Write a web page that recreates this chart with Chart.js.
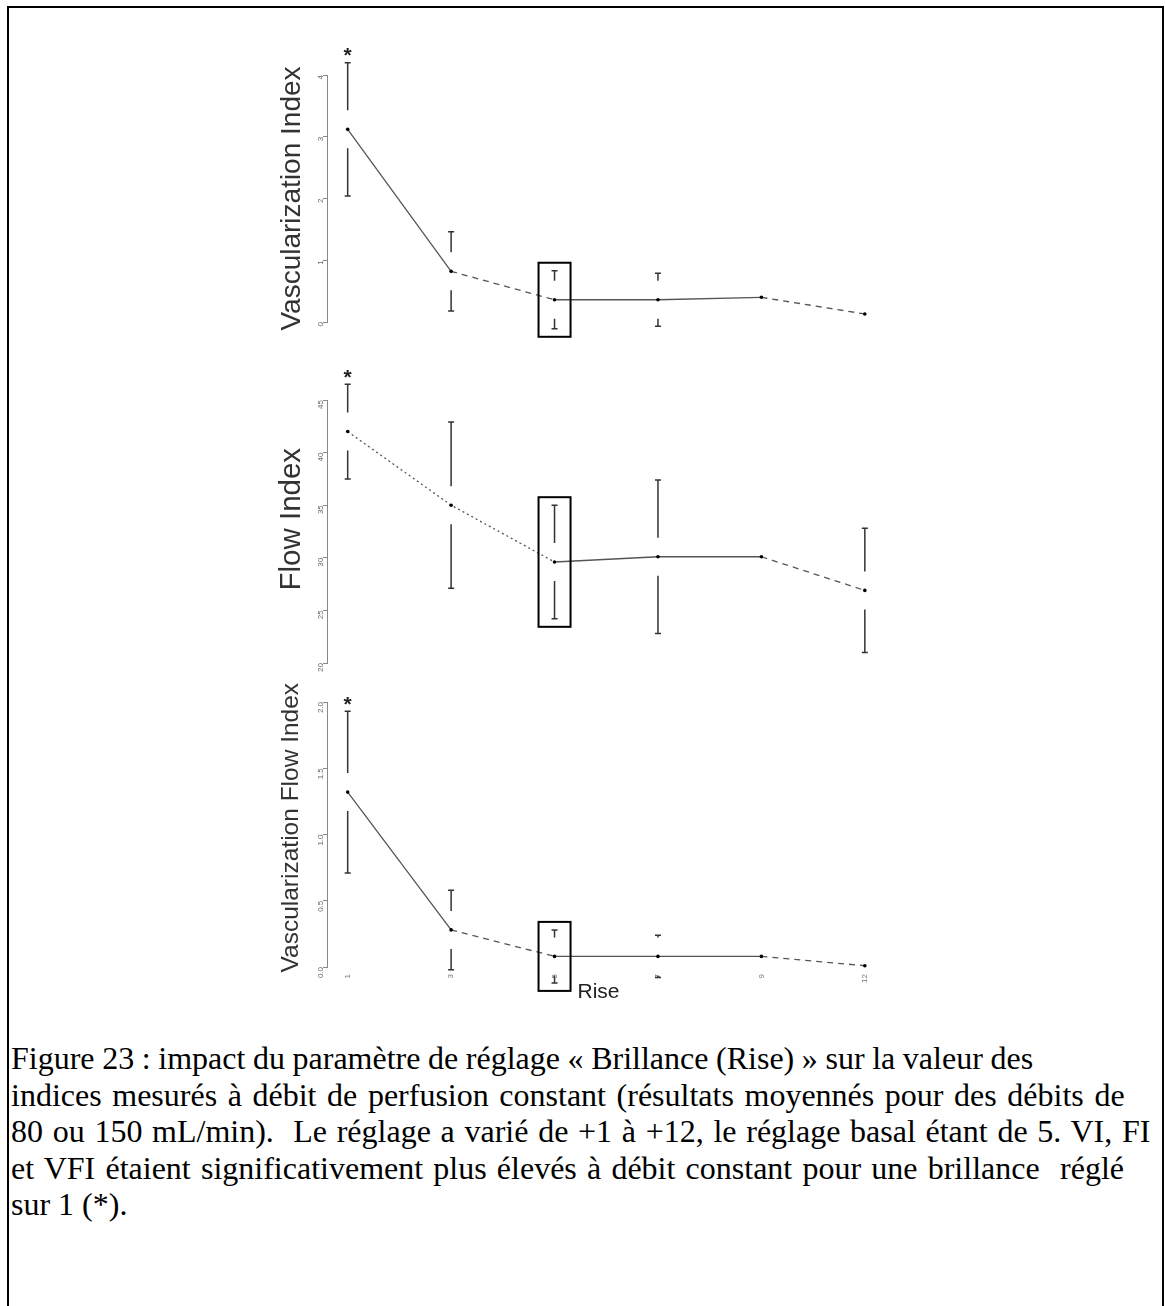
<!DOCTYPE html>
<html>
<head>
<meta charset="utf-8">
<script src="https://cdn.jsdelivr.net/npm/chart.js@4.4.1/dist/chart.umd.min.js"></script>
<style>
  body { margin: 0; background: #fff; width: 1165px; height: 1306px; position: relative; overflow: hidden; }
  #frame { position: absolute; left: 7px; top: 6px; width: 1157px; height: 1330px; border: 2px solid #000; box-sizing: border-box; }
  canvas { position: absolute; }
  #caption { position: absolute; left: 11px; top: 1040px; font-family: "Liberation Serif", "Times New Roman", serif;
             font-size: 32px; line-height: 36.6px; color: #000; white-space: nowrap; }
</style>
</head>
<body>
<div id="frame"></div>
<canvas id="viChart" width="620" height="305" style="left:262px; top:40px"></canvas>
<canvas id="fiChart" width="620" height="320" style="left:262px; top:360px"></canvas>
<canvas id="vfiChart" width="620" height="350" style="left:262px; top:680px"></canvas>
<div id="caption">
  <div style="word-spacing:-0.4px">Figure 23 : impact du paramètre de réglage « Brillance (Rise) » sur la valeur des</div>
  <div style="word-spacing:2.6px">indices mesurés à débit de perfusion constant (résultats moyennés pour des débits de</div>
  <div style="word-spacing:1.7px">80 ou 150 mL/min).&nbsp; Le réglage a varié de +1 à +12, le réglage basal étant de 5. VI, FI</div>
  <div style="word-spacing:2.2px">et VFI étaient significativement plus élevés à débit constant pour une brillance&nbsp; réglé</div>
  <div>sur 1 (*).</div>
</div>
<script>
// positions des réglages (Rise) sur l'axe x
const xVals = [1, 2, 3, 4, 5, 6];
const xLabels = ['1', '3', '5', '7', '9', '12'];

// Vascularization Index
const viMean = [3.12, 0.82, 0.36, 0.36, 0.40, 0.13];
const viErr  = [1.08, 0.64, 0.47, 0.43, 0.10, 0.20];
const viTicks = [0, 1, 2, 3, 4];

// Flow Index
const fiMean = [42.0, 35.0, 29.6, 30.1, 30.1, 26.9];
const fiErr  = [4.5, 7.9, 5.4, 7.3, 0.5, 5.9];
const fiTicks = [20, 25, 30, 35, 40, 45];

// Vascularization Flow Index
const vfiMean = [1.32, 0.28, 0.08, 0.08, 0.08, 0.01];
const vfiErr  = [0.61, 0.30, 0.20, 0.16, 0.03, 0.02];
const vfiTicks = [0.0, 0.5, 1.0, 1.5, 2.0];

// style de chaque segment (point i -> i+1)
const dashes = { solid: [], dash: [6, 5], dot: [2, 3] };
const viSeg  = ['solid', 'dash', 'solid', 'solid', 'dash'];
const fiSeg  = ['dot', 'dot', 'solid', 'solid', 'dash'];
const vfiSeg = ['solid', 'dash', 'solid', 'solid', 'dash'];

// barres d'erreur (avec un trou autour de la moyenne), cadre autour du réglage basal, astérisque
const errPlugin = {
  id: 'errbars',
  afterDatasetsDraw(chart, args, opts) {
    const { ctx, scales: { x, y } } = chart;
    const pts = chart.data.datasets[0].data;
    const gap = 19;
    ctx.save();
    ctx.strokeStyle = '#333';
    ctx.lineWidth = 1.5;
    pts.forEach((p, i) => {
      const px = x.getPixelForValue(p.x);
      const pm = y.getPixelForValue(p.y);
      const pt = y.getPixelForValue(p.y + opts.err[i]);
      const pb = y.getPixelForValue(p.y - opts.err[i]);
      ctx.beginPath();
      if (pm - gap > pt) {
        ctx.moveTo(px, pm - gap); ctx.lineTo(px, pt);
        ctx.moveTo(px - 3, pt); ctx.lineTo(px + 3, pt);
      }
      if (pm + gap < pb) {
        ctx.moveTo(px, pm + gap); ctx.lineTo(px, pb);
        ctx.moveTo(px - 3, pb); ctx.lineTo(px + 3, pb);
      }
      ctx.stroke();
      if (i === opts.box) {
        ctx.strokeStyle = '#000';
        ctx.lineWidth = 2;
        ctx.strokeRect(px - 16, pt - 8, 32, pb - pt + 16);
        ctx.strokeStyle = '#333';
        ctx.lineWidth = 1.5;
      }
      if (i === opts.star) {
        ctx.fillStyle = '#222';
        ctx.font = 'bold 21px "Liberation Sans", Arial, sans-serif';
        ctx.textAlign = 'center';
        ctx.textBaseline = 'middle';
        ctx.fillText('*', px, pt - 6);
      }
    });
    ctx.restore();
  }
};

function makeChart(id, mean, err, seg, ticks, title, titleSize, pad, titleTop, showX, fmt) {
  const ctx = document.getElementById(id).getContext('2d');
  return new Chart(ctx, {
    type: 'line',
    data: {
      datasets: [{
        data: xVals.map((x, i) => ({ x: x, y: mean[i] })),
        borderColor: '#555',
        borderWidth: 1.3,
        pointRadius: 1.8,
        pointBackgroundColor: '#000',
        pointBorderWidth: 0,
        tension: 0,
        clip: false,
        segment: { borderDash: c => dashes[seg[c.p0DataIndex]] }
      }]
    },
    plugins: [errPlugin],
    options: {
      responsive: false,
      animation: false,
      layout: { padding: pad },
      plugins: {
        legend: { display: false },
        tooltip: { enabled: false },
        errbars: { err: err, box: 2, star: 0 }
      },
      scales: {
        x: {
          type: 'linear',
          min: 0.8,
          max: 6.05,
          display: showX,
          afterBuildTicks: s => { s.ticks = xVals.map(v => ({ value: v })); },
          afterFit: s => {
            if (showX) s.height = 63;
            s.paddingLeft = 0; s.paddingRight = 0;
          },
          grid: { display: false, drawTicks: false },
          border: { display: false },
          ticks: {
            callback: v => xLabels[xVals.indexOf(v)],
            minRotation: 90, maxRotation: 90,
            padding: 7,
            font: { size: 8 }, color: '#777'
          },
          title: {
            display: true, text: 'Rise', color: '#222',
            font: { size: 21, family: '"Liberation Sans", Arial, sans-serif' },
            padding: { top: 0, bottom: 25 }
          }
        },
        y: {
          min: ticks[0],
          max: ticks[ticks.length - 1],
          afterBuildTicks: s => { s.ticks = ticks.map(v => ({ value: v })); },
          afterFit: s => { s.width = 65; },
          border: { display: true, color: '#888', width: 1 },
          grid: { drawOnChartArea: false, drawTicks: true, tickLength: 4, color: '#888' },
          ticks: {
            callback: fmt,
            minRotation: 90, maxRotation: 90,
            padding: 2,
            font: { size: 8 }, color: '#666'
          },
          title: {
            display: true, text: title, color: '#333',
            font: { size: titleSize, family: '"Liberation Sans", Arial, sans-serif' },
            padding: { top: titleTop, bottom: 0 }
          }
        }
      }
    }
  });
}

Chart.defaults.font.family = '"Liberation Sans", Arial, sans-serif';

makeChart('viChart', viMean, viErr, viSeg, viTicks, 'Vascularization Index', 28,
  { top: 35, bottom: 23, right: 12, left: 0 }, 13, false, v => String(v));
makeChart('fiChart', fiMean, fiErr, fiSeg, fiTicks, '   Flow Index', 29.5,
  { top: 40, bottom: 17, right: 12, left: 0 }, 12, false, v => String(v));
makeChart('vfiChart', vfiMean, vfiErr, vfiSeg, vfiTicks, '  Vascularization Flow Index', 24.5,
  { top: 22, bottom: 0, right: 12, left: 0 }, 15, true, v => v.toFixed(1));
</script>
</body>
</html>
